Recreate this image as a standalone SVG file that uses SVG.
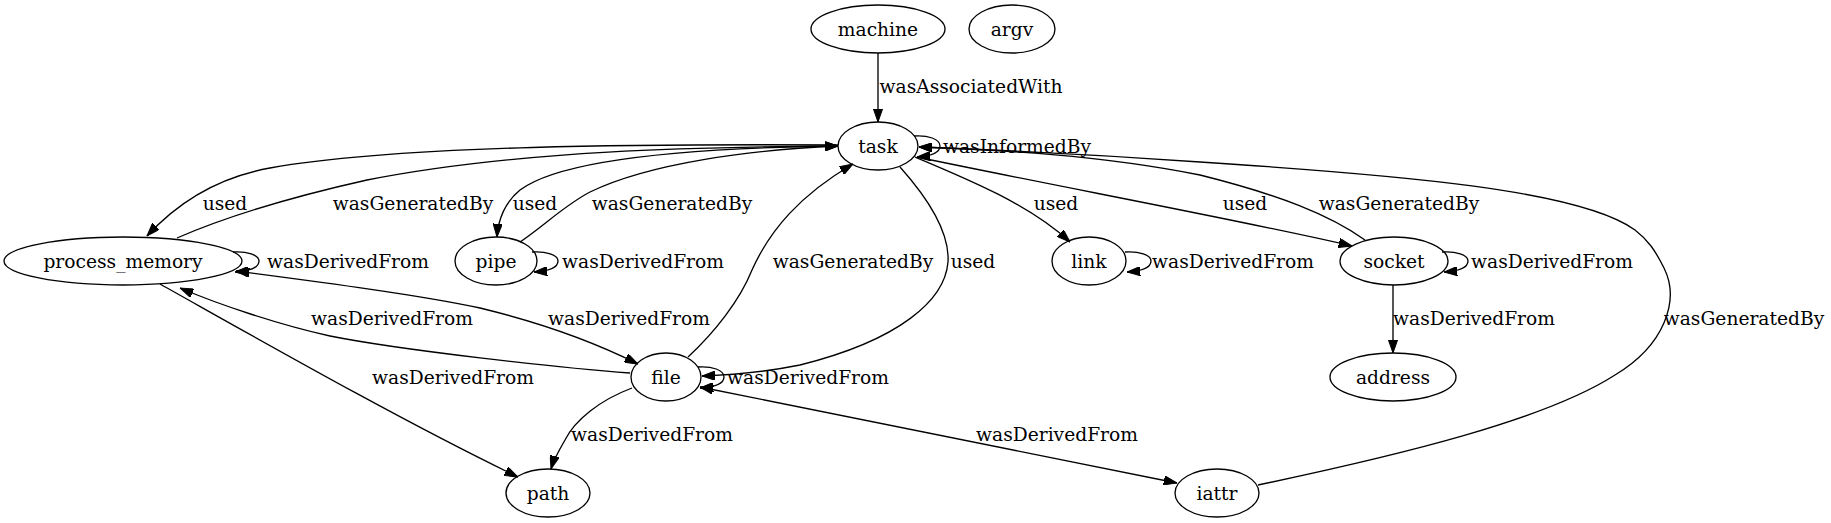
<svg xmlns="http://www.w3.org/2000/svg" width="1831" height="523" viewBox="0 0 1831 523">
<style>
.n ellipse{fill:none;stroke:#000;stroke-width:1.33}
text{font-family:"DejaVu Serif","Liberation Serif",serif;font-size:18.67px;fill:#000;text-anchor:middle;dominant-baseline:central}
.e path{fill:none;stroke:#000;stroke-width:1.33;marker-end:url(#ah)}
.e path.b{marker-start:url(#ah)}
</style>
<defs>
<marker id="ah" markerUnits="userSpaceOnUse" viewBox="0 0 13.3 9.34" refX="13.3" refY="4.67" markerWidth="13.3" markerHeight="9.34" orient="auto-start-reverse">
<path d="M0,0 L13.3,4.67 L0,9.34 Z" fill="#000" stroke="#000" stroke-width="1"/>
</marker>
</defs>
<rect width="1831" height="523" fill="#fff"/>
<g class="e" id="edges">
<path d="M878,53 L878,122"/>
<text x="971" y="86">wasAssociatedWith</text>
<path d="M914,136 C928,135 940,139 940,146 C940,152 932,156 917,157"/>
<text x="1017" y="146">wasInformedBy</text>
<path d="M838,145 C650,144 400,145 270,168 C220,177 180,200 147,236"/>
<text x="225" y="203">used</text>
<path d="M177,238 C230,215 300,195 367,180 C520,150 700,147 838,146"/>
<text x="413" y="203">wasGeneratedBy</text>
<path d="M838,146 C680,148 560,160 520,190 C505,202 498,220 497,237"/>
<text x="535" y="203">used</text>
<path d="M520,242 C545,225 565,205 590,192 C650,163 750,150 838,146"/>
<text x="672" y="203">wasGeneratedBy</text>
<path d="M915,157 C970,180 1030,205 1070,242"/>
<text x="1056" y="203">used</text>
<path d="M917,157 C1050,185 1250,222 1352,246"/>
<text x="1245" y="203">used</text>
<path d="M1365,240 C1330,215 1280,195 1200,175 C1100,155 1000,150 919,147"/>
<text x="1399" y="203">wasGeneratedBy</text>
<path d="M1258,485 C1400,455 1545,420 1615,375 C1665,345 1680,300 1664,268 C1655,250 1648,240 1635,230 C1580,190 1400,175 1200,162 C1100,155 1000,150 919,147"/>
<text x="1744" y="318">wasGeneratedBy</text>
<path d="M688,357 C715,332 740,300 752,270 C770,230 800,195 853,164"/>
<text x="853" y="261">wasGeneratedBy</text>
<path d="M900,167 C925,195 950,230 948,262 C945,300 900,340 800,365 C765,372 735,375 702,376"/>
<text x="973" y="261">used</text>
<path d="M233,252 C247,251 259,255 259,261 C259,267 251,271 235,272"/>
<text x="348" y="261">wasDerivedFrom</text>
<path d="M532,252 C546,251 558,255 558,261 C558,267 550,271 534,272"/>
<text x="643" y="261">wasDerivedFrom</text>
<path d="M1125,252 C1139,251 1151,255 1151,261 C1151,267 1143,271 1127,272"/>
<text x="1233" y="261">wasDerivedFrom</text>
<path d="M1442,252 C1456,251 1468,255 1468,261 C1468,267 1460,271 1444,272"/>
<text x="1552" y="261">wasDerivedFrom</text>
<path d="M698,367 C712,366 724,370 724,377 C724,383 716,387 700,388"/>
<text x="808" y="377">wasDerivedFrom</text>
<path d="M630,373 C560,368 400,350 330,336 C280,325 220,305 180,288"/>
<text x="392" y="318">wasDerivedFrom</text>
<path class="b" d="M236,271 C320,282 420,295 480,308 C550,325 600,345 638,364"/>
<text x="629" y="318">wasDerivedFrom</text>
<path d="M1393,285 L1393,353"/>
<text x="1474" y="318">wasDerivedFrom</text>
<path d="M160,284 C260,340 400,420 518,477"/>
<text x="453" y="377">wasDerivedFrom</text>
<path d="M632,388 C600,400 575,420 565,440 C558,452 553,462 551,469"/>
<text x="652" y="434">wasDerivedFrom</text>
<path class="b" d="M700,387 L1177,483"/>
<text x="1057" y="434">wasDerivedFrom</text>
</g>
<g class="n" id="machine"><ellipse cx="878" cy="29" rx="67" ry="24"/><text x="878" y="29">machine</text></g>
<g class="n" id="argv"><ellipse cx="1012" cy="29" rx="43" ry="24"/><text x="1012" y="29">argv</text></g>
<g class="n" id="task"><ellipse cx="878" cy="146" rx="40" ry="24"/><text x="878" y="146">task</text></g>
<g class="n" id="process_memory"><ellipse cx="123" cy="261" rx="119" ry="24"/><text x="123" y="261">process_memory</text></g>
<g class="n" id="pipe"><ellipse cx="496" cy="261" rx="41" ry="24"/><text x="496" y="261">pipe</text></g>
<g class="n" id="link"><ellipse cx="1089" cy="261" rx="37" ry="24"/><text x="1089" y="261">link</text></g>
<g class="n" id="socket"><ellipse cx="1394" cy="261" rx="54" ry="24"/><text x="1394" y="261">socket</text></g>
<g class="n" id="file"><ellipse cx="666" cy="377" rx="35" ry="24"/><text x="666" y="377">file</text></g>
<g class="n" id="address"><ellipse cx="1393" cy="377" rx="63" ry="24"/><text x="1393" y="377">address</text></g>
<g class="n" id="path"><ellipse cx="548" cy="493" rx="42" ry="24"/><text x="548" y="493">path</text></g>
<g class="n" id="iattr"><ellipse cx="1217" cy="493" rx="42" ry="24"/><text x="1217" y="493">iattr</text></g>
</svg>
